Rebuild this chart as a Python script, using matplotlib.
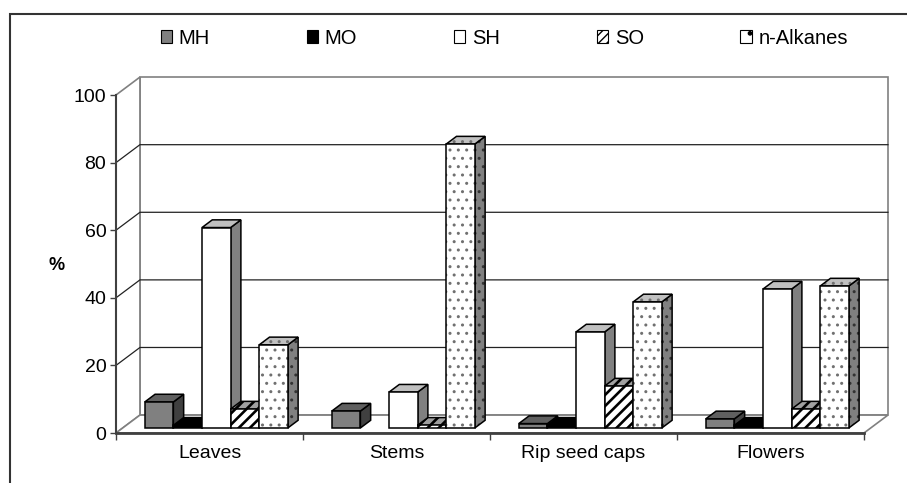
import matplotlib
matplotlib.use('Agg')
import matplotlib.pyplot as plt
from matplotlib.patches import Polygon, Patch, Rectangle

plt.rcParams['font.family'] = ['Liberation Sans', 'DejaVu Sans']

# Dados (%)
categorias = ['Leaves', 'Stems', 'Rip seed caps', 'Flowers']
series = ['MH', 'MO', 'SH', 'SO', 'n-Alkanes']
mh = [7.7, 5.0, 1.3, 2.7]
mo = [0.8, 0.0, 0.8, 0.8]
sh = [59.3, 10.6, 28.4, 41.1]
so = [5.6, 0.8, 12.4, 5.6]
alcanos = [24.6, 84.0, 37.3, 42.0]
yticks = [0, 20, 40, 60, 80, 100]

valores = [mh, mo, sh, so, alcanos]

# estilo de cada série: frente, topo, lado, hachura, cor da hachura
estilos = {
    'MH': ('#808080', '#606060', '#404040', None, None),
    'MO': ('#000000', '#000000', '#000000', None, None),
    'SH': ('#ffffff', '#c0c0c0', '#808080', None, None),
    'SO': ('#ffffff', '#a0a0a0', '#808080', '///', '#000000'),
    'n-Alkanes': ('#ffffff', '#c0c0c0', '#808080', '..', '#707070'),
}

# profundidade do "3D" (unidades de dados)
prof_x = 0.128
prof_y = 5.3
t0, t1 = 0.28, 0.71
margem = 0.118
largura = 0.153

fig = plt.figure(figsize=(9.07, 4.83), dpi=100)
ax = fig.add_axes([116 / 907, 50 / 483, 748 / 907, 338 / 483])
ax.set_xlim(0, 4)
ax.set_ylim(0, 100)
ax.patch.set_alpha(0)

cinza = '#808080'
# parede do fundo, parede lateral e chão
ax.add_patch(Polygon([(prof_x, prof_y), (4 + prof_x, prof_y), (4 + prof_x, 100 + prof_y),
                      (prof_x, 100 + prof_y)], closed=True, facecolor='white',
                     edgecolor=cinza, lw=1.2, clip_on=False, zorder=0))
ax.add_patch(Polygon([(0, 0), (prof_x, prof_y), (prof_x, 100 + prof_y), (0, 100)],
                     closed=True, facecolor='white', edgecolor=cinza, lw=1.2,
                     clip_on=False, zorder=0))
ax.add_patch(Polygon([(0, 0), (4, 0), (4 + prof_x, prof_y), (prof_x, prof_y)],
                     closed=True, facecolor='white', edgecolor=cinza, lw=1.2,
                     clip_on=False, zorder=0))

# linhas de grade
for v in yticks[1:-1]:
    ax.plot([0, prof_x, 4 + prof_x], [v, v + prof_y, v + prof_y], color='#222222',
            lw=0.9, clip_on=False, zorder=1)


def face(pts, cor, hachura=None, cor_hach=None):
    if hachura:
        p = Polygon(pts, closed=True, facecolor=cor, edgecolor=cor_hach, lw=0,
                    hatch=hachura, clip_on=False, zorder=3)
        if hasattr(p, 'set_hatch_linewidth'):
            p.set_hatch_linewidth(1.9 if '/' in hachura else 1.0)
        ax.add_patch(p)
        ax.add_patch(Polygon(pts, closed=True, fill=False, edgecolor='black', lw=1.1,
                             clip_on=False, zorder=3))
    else:
        ax.add_patch(Polygon(pts, closed=True, facecolor=cor, edgecolor='black',
                             lw=1.1, clip_on=False, zorder=3))


a0, b0 = t0 * prof_x, t0 * prof_y
a1, b1 = t1 * prof_x, t1 * prof_y
for i in range(len(categorias)):
    for j, nome in enumerate(series):
        v = valores[j][i]
        if v <= 0:
            continue
        frente, topo, lado, hach, cor_hach = estilos[nome]
        x0 = i + margem + j * largura
        x1 = x0 + largura
        face([(x1 + a0, b0), (x1 + a1, b1), (x1 + a1, v + b1), (x1 + a0, v + b0)],
             lado, hach, cor_hach if nome != 'n-Alkanes' else '#333333')
        face([(x0 + a0, v + b0), (x1 + a0, v + b0), (x1 + a1, v + b1), (x0 + a1, v + b1)],
             topo, hach, cor_hach)
        face([(x0 + a0, b0), (x1 + a0, b0), (x1 + a0, v + b0), (x0 + a0, v + b0)],
             frente, hach, cor_hach)

# eixos
for s in ['top', 'right']:
    ax.spines[s].set_visible(False)
ax.spines['left'].set_color('#404040')
ax.spines['left'].set_linewidth(1.5)
ax.spines['bottom'].set_color('#404040')
ax.spines['bottom'].set_linewidth(2)
ax.spines['left'].set_zorder(2)
ax.spines['bottom'].set_zorder(2)

ax.set_yticks(yticks)
ax.tick_params(axis='y', length=4, width=1, color='#404040', pad=3, labelsize=14)
ax.set_xticks([i + 0.5 for i in range(len(categorias))])
ax.set_xticklabels(categorias)
ax.set_xticks(range(len(categorias) + 1), minor=True)
ax.tick_params(axis='x', which='major', length=0, pad=9, labelsize=14)
ax.tick_params(axis='x', which='minor', length=5, width=1, color='#404040')

ax.set_ylabel('%', rotation=0, fontweight='bold', fontsize=13, va='center')
ax.yaxis.set_label_coords(-0.079, 0.497)

# legenda
handles = []
for nome in series:
    frente, topo, lado, hach, cor_hach = estilos[nome]
    handles.append(Patch(facecolor=frente, edgecolor='black', lw=0.8,
                         hatch=('////' if hach == '///' else ('.' if hach else None)),
                         label=nome))
fig.legend(handles=handles, loc='center', bbox_to_anchor=(0.556, 0.921), ncol=5,
           frameon=False, fontsize=14.5, handlelength=0.55, handleheight=0.55,
           handletextpad=0.35, columnspacing=4.8)

# moldura externa
fig.patches.append(Rectangle((10 / 907, -0.2), 1.2, 1.2 - 14 / 483, fill=False,
                             edgecolor='#333333', lw=1.5, transform=fig.transFigure))

fig.savefig('out.png', dpi=100)
